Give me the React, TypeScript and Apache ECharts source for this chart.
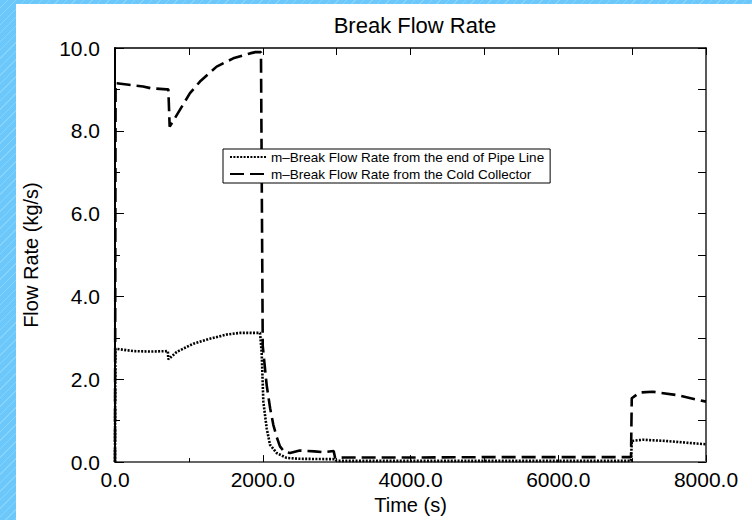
import React, { useEffect, useRef } from "react";
import * as echarts from "echarts";

const chartTitle = "Break Flow Rate";
const xAxisName = "Time (s)";
const yAxisName = "Flow Rate (kg/s)";
const seriesNames = [
  "m\u2013Break Flow Rate from the end of Pipe Line",
  "m\u2013Break Flow Rate from the Cold Collector",
];

const pipeTimes = [0, 5, 248, 474, 715, 722, 835, 1060, 1286, 1512, 1692, 1963, 1985, 2008, 2053, 2098, 2188, 2324, 2500, 2975, 3000, 4000, 5000, 6000, 6985, 6995, 7143, 7458, 8000];
const pipeValues = [0, 2.74, 2.68, 2.67, 2.68, 2.48, 2.66, 2.86, 2.98, 3.08, 3.12, 3.12, 2.66, 1.46, 0.82, 0.42, 0.22, 0.1, 0.08, 0.07, 0.03, 0.03, 0.03, 0.03, 0.03, 0.51, 0.54, 0.51, 0.43];

const collectorTimes = [0, 8, 160, 380, 480, 700, 722, 740, 812, 1015, 1150, 1376, 1601, 1827, 1900, 1976, 2000, 2053, 2100, 2143, 2190, 2233, 2290, 2369, 2500, 2700, 2820, 2960, 2980, 3100, 4000, 5000, 6000, 6985, 6995, 7100, 7280, 7600, 8000];
const collectorValues = [0, 9.15, 9.12, 9.07, 9.03, 9.0, 9.0, 8.1, 8.31, 8.91, 9.19, 9.55, 9.75, 9.87, 9.9, 9.9, 2.8, 1.86, 1.3, 0.9, 0.6, 0.38, 0.25, 0.22, 0.28, 0.26, 0.24, 0.27, 0.1, 0.11, 0.11, 0.12, 0.12, 0.12, 1.54, 1.68, 1.7, 1.62, 1.46];

const xMin = 0;
const xMax = 8000;
const yMin = 0;
const yMax = 10;

const FONT = "'Liberation Sans', Arial, Helvetica, sans-serif";

export default function App() {
  const ref = useRef<HTMLDivElement>(null);

  useEffect(() => {
    if (!ref.current) return;
    const chart = echarts.init(ref.current, undefined, { renderer: "svg" });
    const pipeData = pipeTimes.map((t, i) => [t, pipeValues[i]]);
    const collData = collectorTimes.map((t, i) => [t, collectorValues[i]]);

    chart.setOption({
      animation: false,
      backgroundColor: "transparent",
      textStyle: { fontFamily: FONT },
      title: {
        text: chartTitle,
        left: 410,
        textAlign: "center",
        top: 9,
        textStyle: { fontSize: 22, fontWeight: "normal", color: "#000", fontFamily: FONT },
      },
      legend: {
        orient: "vertical",
        left: 223,
        top: 149,
        backgroundColor: "#fff",
        borderColor: "#000",
        borderWidth: 1,
        borderRadius: 0,
        padding: [1, 6, 2, 6],
        itemGap: 3,
        itemWidth: 36,
        itemHeight: 13,
        itemStyle: { opacity: 0 },
        textStyle: { fontSize: 13.5, color: "#000", fontFamily: FONT, lineHeight: 13 },
        data: seriesNames,
      },
      grid: { left: 115, top: 48, width: 591, height: 416, containLabel: false },
      xAxis: [
        {
          type: "value",
          position: "bottom",
          min: xMin,
          max: xMax,
          interval: 2000,
          name: xAxisName,
          nameLocation: "middle",
          nameGap: 24,
          nameTextStyle: { fontSize: 20, color: "#000", fontFamily: FONT },
          axisLine: { show: true, onZero: false, lineStyle: { color: "#666", width: 2 } },
          axisTick: { show: true, inside: true, length: 7, lineStyle: { color: "#000", width: 1 } },
          minorTick: { show: true, splitNumber: 2, length: 4, lineStyle: { color: "#000", width: 1 } },
          axisLabel: {
            fontSize: 21,
            color: "#000",
            margin: 7,
            fontFamily: FONT,
            formatter: (v: number) => v.toFixed(1),
          },
          splitLine: { show: false },
        },
        {
          type: "value",
          position: "top",
          min: xMin,
          max: xMax,
          interval: 1000,
          axisLine: { show: true, onZero: false, lineStyle: { color: "#000", width: 1.5 } },
          axisTick: { show: true, inside: true, length: 7, lineStyle: { color: "#000", width: 1 } },
          axisLabel: { show: false },
          splitLine: { show: false },
        },
      ],
      yAxis: [
        {
          type: "value",
          position: "left",
          min: yMin,
          max: yMax,
          interval: 2,
          name: yAxisName,
          nameLocation: "middle",
          nameGap: 74,
          nameRotate: 90,
          nameTextStyle: { fontSize: 20, color: "#000", fontFamily: FONT },
          axisLine: { show: true, onZero: false, lineStyle: { color: "#000", width: 2 } },
          axisTick: { show: true, inside: true, length: 9, lineStyle: { color: "#000", width: 1 } },
          minorTick: { show: true, splitNumber: 2, length: 5, lineStyle: { color: "#000", width: 1 } },
          axisLabel: {
            fontSize: 21,
            color: "#000",
            margin: 15,
            fontFamily: FONT,
            formatter: (v: number) => v.toFixed(1),
          },
          splitLine: { show: false },
        },
        {
          type: "value",
          position: "right",
          min: yMin,
          max: yMax,
          interval: 1,
          axisLine: { show: true, onZero: false, lineStyle: { color: "#222", width: 1.5 } },
          axisTick: { show: true, inside: true, length: 8, lineStyle: { color: "#000", width: 1 } },
          axisLabel: { show: false },
          splitLine: { show: false },
        },
      ],
      series: [
        {
          name: seriesNames[0],
          type: "line",
          xAxisIndex: 0,
          yAxisIndex: 0,
          data: pipeData,
          symbol: "none",
          showSymbol: false,
          smooth: false,
          lineStyle: { color: "#000", width: 2.6, type: [2, 1.4], cap: "butt" },
          itemStyle: { color: "#000" },
          z: 3,
        },
        {
          name: seriesNames[1],
          type: "line",
          xAxisIndex: 0,
          yAxisIndex: 0,
          data: collData,
          symbol: "none",
          showSymbol: false,
          smooth: false,
          lineStyle: { color: "#000", width: 2.6, type: [14, 6], cap: "butt" },
          itemStyle: { color: "#000" },
          z: 3,
        },
      ],
    });
    return () => chart.dispose();
  }, []);

  return (
    <div
      style={{
        position: "absolute",
        left: 0,
        top: 0,
        width: 752,
        height: 520,
        overflow: "hidden",
        background:
          "repeating-linear-gradient(135deg, #6cc7fa 0px, #6cc7fa 5px, #86d3fc 5px, #86d3fc 6px)",
      }}
    >
      <div
        style={{
          position: "absolute",
          left: 16,
          top: 4,
          width: 736,
          height: 516,
          background: "#fff",
        }}
      />
      <div ref={ref} style={{ position: "absolute", left: 0, top: 0, width: 752, height: 520 }} />
    </div>
  );
}
